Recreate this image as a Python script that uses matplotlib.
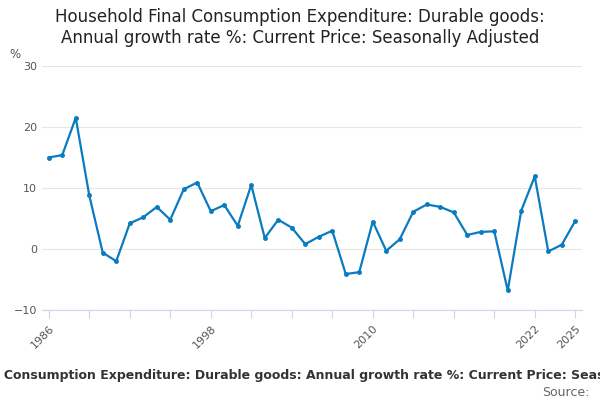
import matplotlib.pyplot as plt

years = list(range(1986, 2026))
growth = [15.0, 15.4, 21.5, 8.8, -0.6, -2.0, 4.2, 5.2, 6.9, 4.8,
          9.8, 10.9, 6.2, 7.2, 3.8, 10.5, 1.8, 4.8, 3.5, 0.8,
          2.0, 3.0, -4.1, -3.8, 4.5, -0.3, 1.6, 6.1, 7.3, 6.9,
          6.0, 2.3, 2.8, 2.9, -6.8, 6.3, 11.9, -0.4, 0.7, 4.6]
label_years = [1986, 1998, 2010, 2022, 2025]

fig = plt.figure(figsize=(6, 4), dpi=100)
ax = fig.add_axes([0.07, 0.225, 0.9, 0.61])
ax.plot(years, growth, color='#0a7bc1', lw=1.6, marker='o', ms=2.5)

ax.set_ylim(-10, 30)
ax.set_yticks([-10, 0, 10, 20, 30])
ax.set_xlim(1985.5, 2025.5)
tick_years = list(range(1986, 2026, 3))
ax.set_xticks(tick_years)
ax.set_xticklabels([str(y) if y in label_years else '' for y in tick_years],
                   rotation=45, ha='right', rotation_mode='anchor')
ax.grid(axis='y', color='#e6e6e6', lw=0.8)
for s in ['top', 'right', 'left']:
    ax.spines[s].set_visible(False)
ax.spines['bottom'].set_color('#ccd6eb')
ax.tick_params(axis='y', length=0, labelsize=8, colors='#555555')
ax.tick_params(axis='x', color='#ccd6eb', labelsize=8, colors='#555555', length=6)
ax.set_axisbelow(True)

fig.text(0.5, 0.98, 'Household Final Consumption Expenditure: Durable goods:\nAnnual growth rate %: Current Price: Seasonally Adjusted',
         ha='center', va='top', fontsize=12, color='#222222')
fig.text(0.015, 0.855, '%', fontsize=8.5, color='#555555')
fig.text(0.5, 0.053, 'Household Final Consumption Expenditure: Durable goods: Annual growth rate %: Current Price: Seasonally Adjusted',
         ha='center', fontsize=9, fontweight='bold', color='#333333')
fig.text(0.982, 0.01, 'Source:', ha='right', fontsize=9, color='#666666')

fig.savefig('out.png')
